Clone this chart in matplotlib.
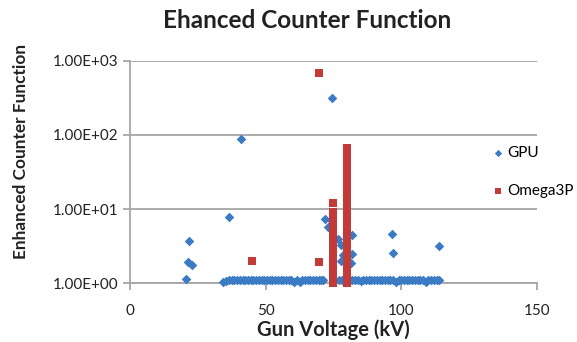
import matplotlib
matplotlib.use("Agg")
import matplotlib.pyplot as plt
from matplotlib.ticker import FixedLocator, NullLocator

plt.rcParams['font.family'] = ['Lato', 'DejaVu Sans']

title = "Ehanced Counter Function"
xlabel = "Gun Voltage (kV)"
ylabel = "Enhanced Counter Function"
x_ticks = [0, 50, 100, 150]
y_ticks = [1, 10, 100, 1000]
y_tick_labels = ["1.00E+00", "1.00E+01", "1.00E+02", "1.00E+03"]

# GPU series: scattered points
gpu_x_pts = [40.8, 74.3, 36.4, 21.7, 21.2, 22.8, 20.6,
             71.7, 72.8, 74.6, 77.9, 82.0, 82.0, 81.6, 77.6, 96.6, 97.1, 114.0, 78.5, 76.5]
gpu_y_pts = [89, 310, 7.8, 3.7, 1.95, 1.74, 1.16,
             7.4, 5.7, 6.9, 3.3, 4.5, 2.5, 1.9, 2.0, 4.6, 2.6, 3.2, 2.4, 4.0]
# GPU series: baseline row near 1.1
gpu_x_row = [34.3, 35.5, 36.5, 37.5, 38.5, 39.5, 40.5, 41.5, 42.5, 43.5, 44.5, 45.5, 46.5, 47.5,
             48.5, 49.5, 50.5, 51.5, 52.5, 53.5, 54.5, 55.5, 56.5, 57.5, 58.5, 59.5, 60.5, 61.5,
             62.5, 63.5, 64.5, 65.5, 66.5, 67.5, 68.5, 69.5, 70.5, 71.2, 77.0, 78.0, 81.0, 82.0,
             83.0, 84.0, 85.0, 86.0, 87.0, 88.0, 89.0, 90.0, 91.0, 92.0, 93.0, 94.0, 95.0, 96.0,
             97.0, 98.0, 99.0, 100.0, 101.0, 102.0, 103.0, 104.0, 105.0, 106.0, 107.0, 108.0,
             109.0, 110.0, 111.0, 112.0, 113.0, 114.0]
gpu_y_row = [1.03, 1.08, 1.12, 1.12, 1.10, 1.12, 1.12, 1.12, 1.12, 1.12, 1.12, 1.12, 1.12, 1.12,
             1.12, 1.12, 1.12, 1.12, 1.12, 1.12, 1.10, 1.12, 1.12, 1.12, 1.10, 1.12, 1.05, 1.12,
             1.03, 1.12, 1.12, 1.12, 1.12, 1.12, 1.12, 1.12, 1.12, 1.12, 1.12, 1.12, 1.12, 1.10,
             1.12, 1.12, 1.08, 1.12, 1.12, 1.10, 1.12, 1.12, 1.12, 1.12, 1.12, 1.10, 1.12, 1.12,
             1.12, 1.03, 1.12, 1.12, 1.12, 1.10, 1.12, 1.12, 1.12, 1.12, 1.12, 1.12, 1.05, 1.12,
             1.12, 1.12, 1.12, 1.12]

# Omega3P series
om_x_pts = [69.6, 44.9, 69.6, 74.8]
om_y_pts = [675, 1.97, 1.95, 12.2]
om_x_col75 = [74.8] * 24
om_y_col75 = [1.0, 1.08, 1.16, 1.25, 1.35, 1.45, 1.56, 1.68, 1.81, 1.95, 2.1, 2.26, 2.44,
              2.63, 2.83, 3.05, 3.3, 3.6, 4.0, 4.5, 5.2, 6.0, 7.2, 9.0]
om_x_col80 = [79.8] * 46
om_y_col80 = [1.0, 1.1, 1.2, 1.3, 1.4, 1.5, 1.6, 1.8, 2.0, 2.2, 2.4, 2.6, 2.9, 3.2, 3.5, 3.9,
              4.3, 4.7, 5.2, 5.7, 6.3, 7.0, 7.7, 8.5, 9.4, 10.3, 11.4, 12.5, 13.8, 15.2, 16.8,
              18.5, 20.4, 22.5, 24.8, 27.3, 30.1, 33.2, 36.6, 40.3, 44.5, 49.0, 54.0, 58.0, 62.0, 66.0]

blue = '#3b7bc4'
red = '#c23b38'
grid_c = '#a6a6a6'
text_c = '#222222'

fig = plt.figure(figsize=(5.77, 3.42), dpi=100)
ax = fig.add_axes([130/577, 1 - 283.3/342, (537-130)/577, (283.3-60.7)/342])

ax.scatter(gpu_x_row + gpu_x_pts, gpu_y_row + gpu_y_pts, marker='D', s=24, color=blue,
           linewidths=0, label='GPU', zorder=3, clip_on=False)
ax.scatter(om_x_col75 + om_x_col80 + om_x_pts, om_y_col75 + om_y_col80 + om_y_pts, marker='s',
           s=30, color=red, linewidths=0, label='Omega3P', zorder=4, clip_on=False)

ax.set_xlim(0, 150)
ax.set_yscale('log')
ax.set_ylim(1, 1000)
ax.xaxis.set_major_locator(FixedLocator(x_ticks))
ax.yaxis.set_major_locator(FixedLocator(y_ticks))
ax.yaxis.set_minor_locator(NullLocator())
ax.set_yticklabels(y_tick_labels)
ax.grid(axis='y', color=grid_c, linewidth=1.3)
ax.set_axisbelow(True)
for s in ['top', 'right']:
    ax.spines[s].set_visible(False)
for s in ['left', 'bottom']:
    ax.spines[s].set_color(grid_c)
    ax.spines[s].set_linewidth(1.3)
ax.tick_params(axis='both', colors=grid_c, length=5, width=1.3, labelcolor=text_c,
               labelsize=11)
ax.tick_params(axis='x', pad=10)

fig.text(307/577, 1 - 20/342, title, fontsize=17.5, fontweight='bold', color=text_c,
         ha='center', va='center')
fig.text(333/577, 1 - 330/342, xlabel, fontsize=14.5, fontweight='bold', color=text_c,
         ha='center', va='center')
fig.text(21/577, 1 - 151/342, ylabel, fontsize=12.4, fontweight='bold', color=text_c,
         ha='center', va='center', rotation=90)

fig.legend(loc='upper left', bbox_to_anchor=(483/577, 1 - 138/342), frameon=False,
           handletextpad=0.1, labelspacing=1.6, fontsize=11, handlelength=1.0,
           markerscale=0.75, borderpad=0)

fig.savefig('out.png', dpi=100)
